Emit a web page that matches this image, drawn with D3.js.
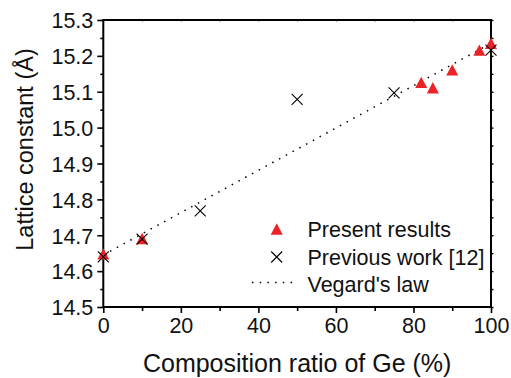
<!DOCTYPE html>
<html>
<head>
<meta charset="utf-8">
<script src="https://cdn.jsdelivr.net/npm/d3@7"></script>
<style>
  body { margin: 0; background: #fff; }
  svg { display: block; font-family: "Liberation Sans", Arial, sans-serif; }
</style>
</head>
<body>
<div id="chart"></div>
<script>
// present results (red triangles)
const presentX = [0, 10, 82, 85, 90, 97, 100];
const presentY = [14.648, 14.691, 15.126, 15.111, 15.161, 15.216, 15.235];
// previous work [12] (crosses)
const previousX = [0, 10, 25, 50, 75, 100];
const previousY = [14.640, 14.689, 14.768, 15.079, 15.097, 15.216];
// Vegard's law end points
const vegardX = [0, 100];
const vegardY = [14.645, 15.235];

const xTicks = [0, 20, 40, 60, 80, 100];
const xMinor = [10, 30, 50, 70, 90];
const yTicks = [14.5, 14.6, 14.7, 14.8, 14.9, 15.0, 15.1, 15.2, 15.3];
const yMinor = [14.55, 14.65, 14.75, 14.85, 14.95, 15.05, 15.15, 15.25];
const legendLabels = ["Present results", "Previous work [12]", "Vegard's law"];

const width = 511, height = 378;
const margin = { top: 20, right: 20, bottom: 71, left: 103.3 };
const red = "#ec2227";

const svg = d3.select("#chart").append("svg")
  .attr("width", width)
  .attr("height", height);

const x = d3.scaleLinear().domain([0, 100]).range([margin.left, width - margin.right]);
const y = d3.scaleLinear().domain([14.5, 15.3]).range([height - margin.bottom, margin.top]);

// minor ticks first, then majors with labels
svg.append("g")
  .attr("transform", `translate(${margin.left},0)`)
  .call(d3.axisLeft(y).tickValues(yMinor).tickSize(3).tickFormat(""))
  .call(g => g.select(".domain").remove());
svg.append("g")
  .attr("transform", `translate(0,${y(14.5)})`)
  .call(d3.axisBottom(x).tickValues(xMinor).tickSize(4).tickFormat(""))
  .call(g => g.select(".domain").remove());

const yAxis = svg.append("g")
  .attr("transform", `translate(${margin.left},0)`)
  .call(d3.axisLeft(y).tickValues(yTicks).tickSize(6).tickPadding(4).tickFormat(d3.format(".1f")));
yAxis.select(".domain").remove();
yAxis.selectAll("text").attr("font-size", 21.5).attr("fill", "#111").attr("dy", "0.36em");

const xAxis = svg.append("g")
  .attr("transform", `translate(0,${y(14.5)})`)
  .call(d3.axisBottom(x).tickValues(xTicks).tickSize(6).tickPadding(4));
xAxis.select(".domain").remove();
xAxis.selectAll("text").attr("font-size", 21.5).attr("fill", "#111").attr("dy", "0.75em");

svg.selectAll(".tick line").attr("stroke", "#000").attr("stroke-width", 1.6);

// right and top small ticks
svg.append("g")
  .attr("transform", `translate(${x(100)},0)`)
  .call(d3.axisRight(y).tickValues(yTicks.concat(yMinor)).tickSize(2.5).tickFormat(""))
  .call(g => g.select(".domain").remove())
  .selectAll("line").attr("stroke", "#000").attr("stroke-width", 1.4);
svg.append("g")
  .attr("transform", `translate(0,${y(15.3)})`)
  .call(d3.axisBottom(x).tickValues(xTicks.concat(xMinor)).tickSize(2).tickFormat(""))
  .call(g => g.select(".domain").remove())
  .selectAll("line").attr("stroke", "#999").attr("stroke-width", 1);

// frame
svg.append("rect")
  .attr("x", x(0)).attr("y", y(15.3))
  .attr("width", x(100) - x(0)).attr("height", y(14.5) - y(15.3))
  .attr("fill", "none").attr("stroke", "#000").attr("stroke-width", 2);

// axis titles
svg.append("text")
  .attr("x", (x(0) + x(100)) / 2).attr("y", 372)
  .attr("text-anchor", "middle").attr("font-size", 25).attr("fill", "#111")
  .text("Composition ratio of Ge (%)");
svg.append("text")
  .attr("transform", "translate(33,149.5) rotate(-90)")
  .attr("text-anchor", "middle").attr("font-size", 23.5).attr("fill", "#111")
  .text("Lattice constant (\u00C5)");

// Vegard's law
const vegard = d3.line().x(d => x(d[0])).y(d => y(d[1]));
svg.append("path")
  .datum(d3.zip(vegardX, vegardY))
  .attr("d", vegard)
  .attr("fill", "none").attr("stroke", "#000")
  .attr("stroke-width", 1.5).attr("stroke-dasharray", "1.5,6.2");

// triangle centred on its box
const triangle = {
  draw(ctx, size) {
    const w = Math.sqrt(size), h = w * 0.95;
    ctx.moveTo(0, -h / 2);
    ctx.lineTo(w / 2, h / 2);
    ctx.lineTo(-w / 2, h / 2);
    ctx.closePath();
  }
};
const cross = {
  draw(ctx, size) {
    const r = Math.sqrt(size) / 2;
    ctx.moveTo(-r, -r); ctx.lineTo(r, r);
    ctx.moveTo(r, -r); ctx.lineTo(-r, r);
  }
};
const triSym = d3.symbol().type(triangle).size(144);
const crossSym = d3.symbol().type(cross).size(121);

svg.append("g").selectAll("path")
  .data(d3.zip(presentX, presentY))
  .join("path")
  .attr("transform", d => `translate(${x(d[0])},${y(d[1])})`)
  .attr("d", triSym)
  .attr("fill", red);

svg.append("g").selectAll("path")
  .data(d3.zip(previousX, previousY))
  .join("path")
  .attr("transform", d => `translate(${x(d[0])},${y(d[1])})`)
  .attr("d", crossSym)
  .attr("fill", "none").attr("stroke", "#000").attr("stroke-width", 1.1);

// legend
const legend = svg.append("g");
const rowY = [229, 257, 284];
legend.append("path")
  .attr("transform", `translate(276.7,${rowY[0]})`)
  .attr("d", triSym).attr("fill", red);
legend.append("path")
  .attr("transform", `translate(276.7,${rowY[1]})`)
  .attr("d", crossSym)
  .attr("fill", "none").attr("stroke", "#000").attr("stroke-width", 1.1);
legend.append("line")
  .attr("x1", 252).attr("x2", 298).attr("y1", rowY[2] - 1.5).attr("y2", rowY[2] - 1.5)
  .attr("stroke", "#000").attr("stroke-width", 1.5).attr("stroke-dasharray", "1.5,6.2");
legend.selectAll("text")
  .data(legendLabels)
  .join("text")
  .attr("x", 307.5)
  .attr("y", (d, i) => rowY[i] + 7.5)
  .attr("font-size", 21.5).attr("fill", "#111")
  .text(d => d);
</script>
</body>
</html>
